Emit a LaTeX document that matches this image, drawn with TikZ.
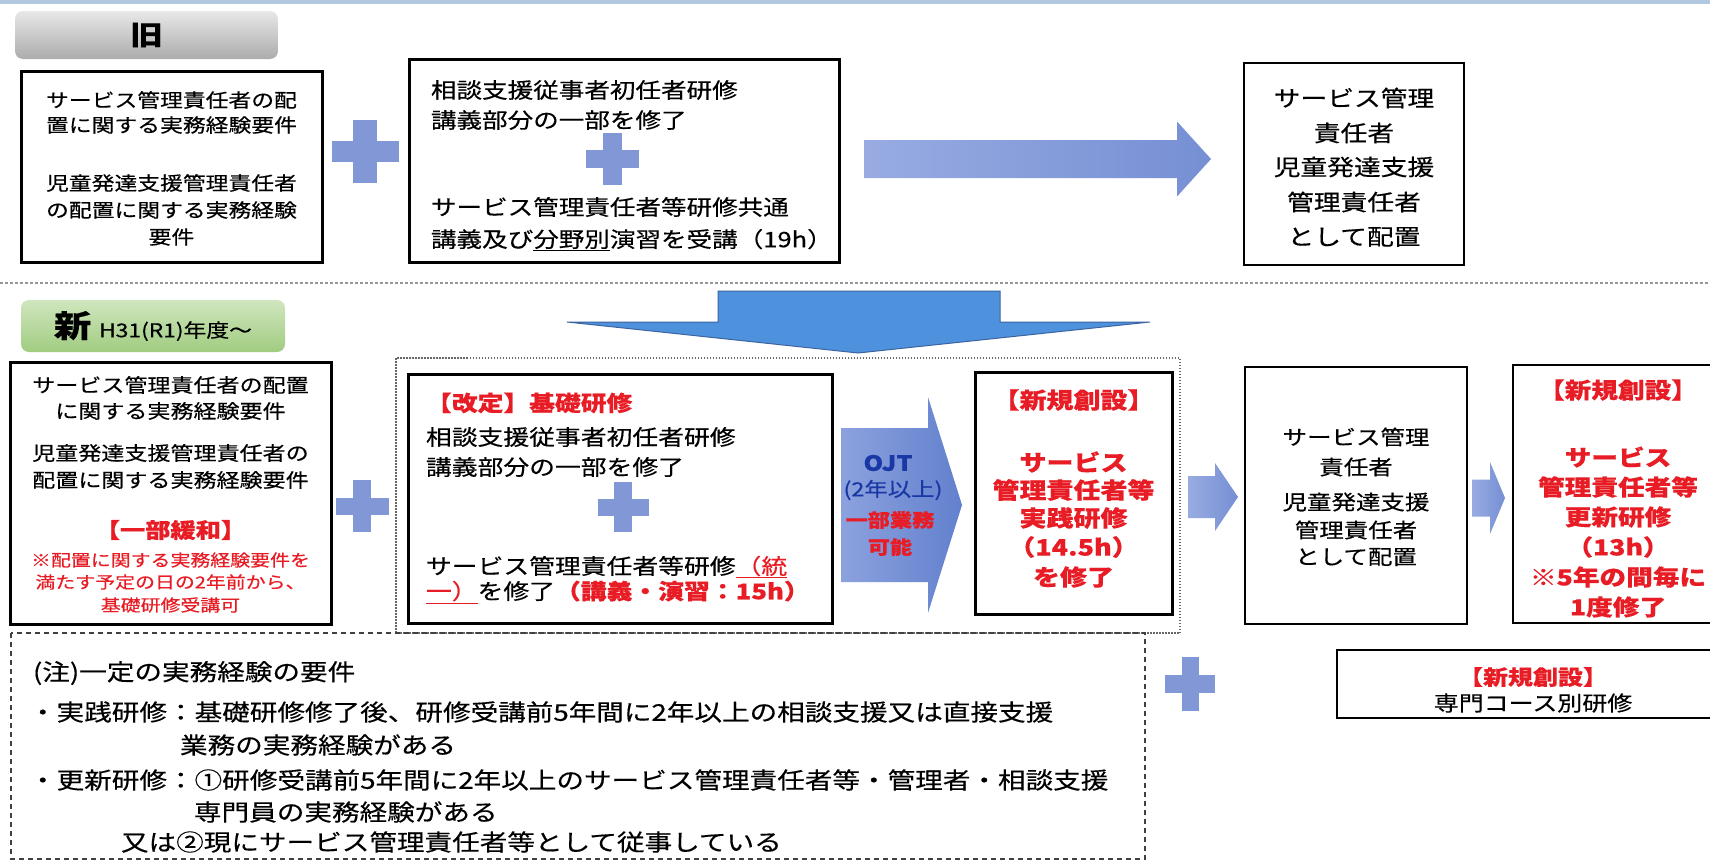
\documentclass[tikz,border=0pt]{standalone}
\usepackage{fontspec}
\setmainfont{Noto Sans CJK JP}[FakeStretch=1.2, FakeBold=0.4]
\definecolor{jred}{RGB}{232,28,36}
\definecolor{ojtblue}{RGB}{25,55,165}
\definecolor{plusc}{RGB}{130,152,214}
\definecolor{arrl}{RGB}{152,172,226}
\definecolor{arrd}{RGB}{118,143,212}
\definecolor{ojtl}{RGB}{140,162,222}
\definecolor{ojtd}{RGB}{98,128,205}
\definecolor{downc}{RGB}{78,146,222}
\definecolor{downe}{RGB}{60,100,160}
\definecolor{sepc}{RGB}{150,150,150}
\definecolor{topc}{RGB}{178,200,224}
\definecolor{grayt}{RGB}{232,232,232}
\definecolor{grayb}{RGB}{172,172,172}
\definecolor{greent}{RGB}{208,230,190}
\definecolor{greenb}{RGB}{160,204,128}
\newcommand\fsz[1]{\fontsize{#1pt}{#1pt}\selectfont}
\newcommand\blockR[7]{\path[#7] (#1,{#4-#5}) -- (#2,{#4-#5}) -- (#2,{#4-#6}) -- (#3,#4) -- (#2,{#4+#6}) -- (#2,{#4+#5}) -- (#1,{#4+#5}) -- cycle;}
\newcommand\plusshape[6]{%
  \fill[plusc] ({#1-#5/2},{#2-#4/2}) rectangle ({#1+#5/2},{#2+#4/2});
  \fill[plusc] ({#1-#3/2},{#2-#6/2}) rectangle ({#1+#3/2},{#2+#6/2});}
\begin{document}
\begin{tikzpicture}[x=1pt,y=-1pt,
  t/.style={inner sep=0pt, outer sep=0pt},
  rt/.style={t, text=jred},
  boxthick/.style={draw=black, line width=3pt, fill=white, inner sep=0pt},
  boxthin/.style={draw=black, line width=2.2pt, fill=white, inner sep=0pt},
  blockarr/.style={left color=arrl, right color=arrd},
  ojtarr/.style={left color=ojtl, right color=ojtd},
  sepline/.style={draw=sepc, line width=1.5pt, dash pattern=on 3pt off 2pt},
  dotbox/.style={draw=black!60, line width=1.4pt, dash pattern=on 1.5pt off 1.5pt},
  dashbox/.style={draw=black!75, line width=1.5pt, dash pattern=on 5pt off 4pt},
  label/.style={rounded corners=8pt, inner sep=0pt}]
\useasboundingbox (0,0) rectangle (1710,862);
\clip (0,0) rectangle (1710,862);
\fill[white] (0,0) rectangle (1710,862);
\fill[topc] (0,0) rectangle (1710,4);

% ---------- old ----------
\node[label, top color=grayt, bottom color=grayb, minimum width=263pt, minimum height=48pt, font=\fsz{27}\bfseries] (lold) at (146.5,35) {旧};

\node[boxthick, minimum width=301pt, minimum height=191pt] (a1) at (171.5,166.5) {};
\begin{scope}[every node/.style={t, font=\fsz{19}}]
\node (a1t1) at (171.5,100) {サービス管理責任者の配};
\node (a1t2) at (171.5,125) {置に関する実務経験要件};
\node (a1t3) at (171.5,183) {児童発達支援管理責任者};
\node (a1t4) at (171.5,210) {の配置に関する実務経験};
\node (a1t5) at (171.5,237) {要件};
\end{scope}

\plusshape{365}{151}{67}{63}{24}{21}

\node[boxthick, minimum width=430pt, minimum height=203pt] (a2) at (624,160.5) {};
\begin{scope}[every node/.style={t, anchor=west, font=\fsz{21.3}}]
\node (a2t1) at (431,90) {相談支援従事者初任者研修};
\node (a2t2) at (431,120) {講義部分の一部を修了};
\node (a2t3) at (431,207) {サービス管理責任者等研修共通};
\node (a2t4) at (431,240) {講義及び\underline{分野別}演習を受講（19h）};
\end{scope}
\plusshape{612}{159}{53}{52}{19}{18}

\blockR{864}{1177}{1211}{159}{19}{37.5}{blockarr}

\node[boxthin, minimum width=220pt, minimum height=202pt] (a3) at (1354,164) {};
\begin{scope}[every node/.style={t, font=\fsz{22.3}}]
\node (a3t1) at (1354,98) {サービス管理};
\node (a3t2) at (1354,133) {責任者};
\node (a3t3) at (1354,167) {児童発達支援};
\node (a3t4) at (1354,202) {管理責任者};
\node (a3t5) at (1354,237) {として配置};
\end{scope}

\draw[sepline] (0,283) -- (1710,283);

% ---------- down arrow ----------
\path[fill=downc, draw=downe, line width=1pt] (718,291) -- (1000,291) -- (1000,322) -- (1150,322) -- (858,353) -- (567,322) -- (718,322) -- cycle;

% ---------- new ----------
\node[label, top color=greent, bottom color=greenb, minimum width=264pt, minimum height=52pt] (lnew) at (153,326) {{\fsz{31}\bfseries 新}\hspace{8pt}{\fsz{19}H31(R1)年度～}};

\draw[dotbox] (396,358) rectangle (1180,633);
\draw[dashbox] (11,633) rectangle (1145,859);

\node[boxthick, minimum width=321pt, minimum height=262pt] (b1) at (170.5,493) {};
\begin{scope}[every node/.style={t, font=\fsz{19.2}}]
\node (b1t1) at (170.5,385) {サービス管理責任者の配置};
\node (b1t2) at (170.5,411) {に関する実務経験要件};
\node (b1t3) at (170.5,453) {児童発達支援管理責任者の};
\node (b1t4) at (170.5,480) {配置に関する実務経験要件};
\end{scope}
\node[rt, font=\fsz{21}\bfseries] (b1t5) at (170.5,530) {【一部緩和】};
\begin{scope}[every node/.style={rt, font=\fsz{16.6}}]
\node (b1t6) at (170.5,560) {※配置に関する実務経験要件を};
\node (b1t7) at (170.5,582) {満たす予定の日の2年前から、};
\node (b1t8) at (170.5,605) {基礎研修受講可};
\end{scope}

\plusshape{362}{506}{53}{52}{18}{17}

\node[boxthick, minimum width=424pt, minimum height=249pt] (b2) at (620,498.5) {};
\node[rt, anchor=west, font=\fsz{21.5}\bfseries] (b2t1) at (426,403) {【改定】基礎研修};
\begin{scope}[every node/.style={t, anchor=west, font=\fsz{21.5}}]
\node (b2t2) at (426,437) {相談支援従事者初任者研修};
\node (b2t3) at (426,467) {講義部分の一部を修了};
\node (b2t4) at (426,567) {サービス管理責任者等研修\textcolor{jred}{\underline{（統}}};
\node (b2t5) at (426,592) {\textcolor{jred}{\underline{一）}}を修了\textcolor{jred}{\bfseries（講義・演習：15h）}};
\end{scope}
\plusshape{623}{507}{51}{50}{18}{17}

\blockR{841}{928}{962}{505}{77}{108}{ojtarr}
\node[t, text=ojtblue, font=\fsz{21}\bfseries] (ojt1) at (888,463) {OJT};
\node[t, text=ojtblue, font=\fsz{19.5}] (ojt2) at (893,490) {(2年以上)};
\node[rt, font=\fsz{18.5}\bfseries] (ojt3) at (890,520) {一部業務};
\node[rt, font=\fsz{18.5}\bfseries] (ojt4) at (890,547) {可能};

\node[boxthick, minimum width=197pt, minimum height=242pt] (b3) at (1073.5,493) {};
\begin{scope}[every node/.style={rt, font=\fsz{22.5}\bfseries}]
\node (b3t1) at (1073.5,400) {【新規創設】};
\node (b3t2) at (1073.5,462) {サービス};
\node (b3t3) at (1073.5,490) {管理責任者等};
\node (b3t4) at (1073.5,518) {実践研修};
\node (b3t5) at (1073.5,547) {（14.5h）};
\node (b3t6) at (1073.5,577) {を修了};
\end{scope}

\blockR{1188}{1215}{1238}{497}{21}{34}{blockarr}

\node[boxthin, minimum width=222pt, minimum height=257pt] (b4) at (1356,495.5) {};
\begin{scope}[every node/.style={t, font=\fsz{20.4}}]
\node (b4t1) at (1356,437) {サービス管理};
\node (b4t2) at (1356,467) {責任者};
\node (b4t3) at (1356,502) {児童発達支援};
\node (b4t4) at (1356,530) {管理責任者};
\node (b4t5) at (1356,557) {として配置};
\end{scope}

\blockR{1472}{1490}{1505}{498}{18.5}{36}{blockarr}

\node[boxthin, minimum width=212pt, minimum height=258pt] (b5) at (1619,494) {};
\begin{scope}[every node/.style={rt, font=\fsz{22.2}\bfseries}]
\node (b5t1) at (1618,390) {【新規創設】};
\node (b5t2) at (1618,457) {サービス};
\node (b5t3) at (1618,487) {管理責任者等};
\node (b5t4) at (1618,517) {更新研修};
\node (b5t5) at (1618,547) {（13h）};
\node (b5t6) at (1618,577) {※5年の間毎に};
\node (b5t7) at (1618,607) {1度修了};
\end{scope}

\node[boxthin, minimum width=388pt, minimum height=68pt] (b6) at (1531,684) {};
\node[rt, font=\fsz{20.8}\bfseries] (b6t1) at (1533,677) {【新規創設】};
\node[t, font=\fsz{20.8}] (b6t2) at (1533,703) {専門コース別研修};

\plusshape{1190}{684}{50}{54}{17}{18}

% ---------- note ----------
\begin{scope}[every node/.style={t, anchor=west, font=\fsz{23}}]
\node (n0) at (33,673) {(注)一定の実務経験の要件};
\node (n1) at (29,712) {・実践研修：基礎研修修了後、研修受講前5年間に2年以上の相談支援又は直接支援};
\node (n2) at (180,745) {業務の実務経験がある};
\node (n3) at (29,780) {・更新研修：①研修受講前5年間に2年以上のサービス管理責任者等・管理者・相談支援};
\node (n4) at (194,812) {専門員の実務経験がある};
\node (n5) at (121,842) {又は②現にサービス管理責任者等として従事している};
\end{scope}
\end{tikzpicture}
\end{document}
